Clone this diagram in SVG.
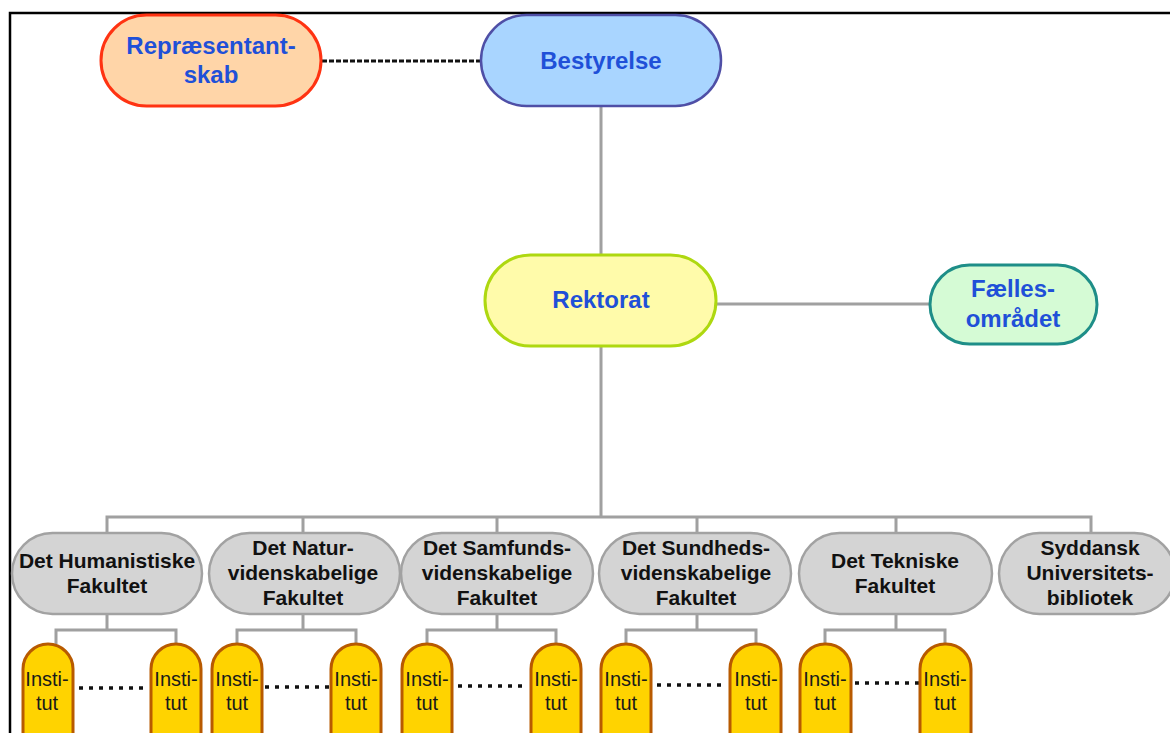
<svg xmlns="http://www.w3.org/2000/svg" width="1170" height="733" viewBox="0 0 1170 733">
<style>
.lbl{font-family:"Liberation Sans",Arial,sans-serif;font-weight:bold;font-size:24px;fill:#1F50D8;text-anchor:middle}
.fac rect{fill:#D4D4D4;stroke:#A2A2A2;stroke-width:2.5}
.fac text{font-family:"Liberation Sans",Arial,sans-serif;font-weight:bold;font-size:21px;fill:#111;text-anchor:middle}
.inst rect{fill:#FFD300;stroke:#B85A00;stroke-width:3}
.inst text{font-family:"Liberation Sans",Arial,sans-serif;font-size:20px;fill:#1a1a1a;text-anchor:middle}
.conn{fill:none;stroke:#A0A0A0;stroke-width:3}
.dots{fill:none;stroke:#111;stroke-width:3.5;stroke-dasharray:4 6}
</style>
<rect width="1170" height="733" fill="#fff"/>
<path d="M10 733 V13 H1170" fill="none" stroke="#000" stroke-width="2.5"/>

<g id="connectors">
  <line x1="322" y1="61" x2="480" y2="61" stroke="#111" stroke-width="3" stroke-dasharray="5 2"/>
  <path class="conn" d="M601 106 V255 M717 304 H929 M601 346 V517 M107 533 V517 H1091 V533 M303 517 V533 M497 517 V533 M697 517 V533 M896 517 V533"/>
  <path class="conn" d="M107 614 V630 M56 644 V630 H176 V644"/>
  <path class="conn" d="M303 614 V630 M237 644 V630 H356 V644"/>
  <path class="conn" d="M497 614 V630 M427 644 V630 H556 V644"/>
  <path class="conn" d="M697 614 V630 M626 644 V630 H756 V644"/>
  <path class="conn" d="M896 614 V630 M825 644 V630 H945 V644"/>
  <line class="dots" x1="79" y1="688" x2="148" y2="688"/>
  <line class="dots" x1="265" y1="687" x2="332" y2="687"/>
  <line class="dots" x1="458" y1="686" x2="527" y2="686"/>
  <line class="dots" x1="657" y1="685" x2="726" y2="685"/>
  <line class="dots" x1="855" y1="683" x2="922" y2="683"/>
</g>

<g id="repraesentantskab">
  <rect x="101" y="15" width="220" height="91" rx="45.5" fill="#FFD5A8" stroke="#FF3312" stroke-width="3"/>
  <text class="lbl" x="211" y="54">Repræsentant-</text>
  <text class="lbl" x="211" y="83">skab</text>
</g>
<g id="bestyrelse">
  <rect x="481" y="15" width="240" height="91" rx="45.5" fill="#A9D5FF" stroke="#4F4FA6" stroke-width="2.5"/>
  <text class="lbl" x="601" y="69">Bestyrelse</text>
</g>
<g id="rektorat">
  <rect x="485" y="255" width="231" height="91" rx="45.5" fill="#FFFBAA" stroke="#AED810" stroke-width="3"/>
  <text class="lbl" x="601" y="308">Rektorat</text>
</g>
<g id="faellesomraadet">
  <rect x="930" y="265" width="167" height="79" rx="39.5" fill="#D5FBD5" stroke="#1E8E88" stroke-width="3"/>
  <text class="lbl" x="1013" y="297">Fælles-</text>
  <text class="lbl" x="1013" y="327">området</text>
</g>

<g id="fak-hum" class="fac">
  <rect x="12" y="533" width="190" height="81" rx="40.5"/>
  <text x="107" y="568">Det Humanistiske</text>
  <text x="107" y="593">Fakultet</text>
</g>
<g id="fak-nat" class="fac">
  <rect x="209" y="533" width="191" height="81" rx="40.5"/>
  <text x="303" y="555">Det Natur-</text>
  <text x="303" y="580">videnskabelige</text>
  <text x="303" y="605">Fakultet</text>
</g>
<g id="fak-sam" class="fac">
  <rect x="401" y="533" width="192" height="81" rx="40.5"/>
  <text x="497" y="555">Det Samfunds-</text>
  <text x="497" y="580">videnskabelige</text>
  <text x="497" y="605">Fakultet</text>
</g>
<g id="fak-sun" class="fac">
  <rect x="599" y="533" width="192" height="81" rx="40.5"/>
  <text x="696" y="555">Det Sundheds-</text>
  <text x="696" y="580">videnskabelige</text>
  <text x="696" y="605">Fakultet</text>
</g>
<g id="fak-tek" class="fac">
  <rect x="799" y="533" width="193" height="81" rx="40.5"/>
  <text x="895" y="568">Det Tekniske</text>
  <text x="895" y="593">Fakultet</text>
</g>
<g id="sdu-bib" class="fac">
  <rect x="999" y="533" width="176" height="81" rx="40.5"/>
  <text x="1090" y="555">Syddansk</text>
  <text x="1090" y="580">Universitets-</text>
  <text x="1090" y="605">bibliotek</text>
</g>

<g id="inst-hum-1" class="inst"><rect x="23" y="644" width="50" height="120" rx="25"/><text x="47" y="686">Insti-</text><text x="47" y="710">tut</text></g>
<g id="inst-hum-2" class="inst"><rect x="151" y="644" width="50" height="120" rx="25"/><text x="176" y="686">Insti-</text><text x="176" y="710">tut</text></g>
<g id="inst-nat-1" class="inst"><rect x="212" y="644" width="50" height="120" rx="25"/><text x="237" y="686">Insti-</text><text x="237" y="710">tut</text></g>
<g id="inst-nat-2" class="inst"><rect x="331" y="644" width="50" height="120" rx="25"/><text x="356" y="686">Insti-</text><text x="356" y="710">tut</text></g>
<g id="inst-sam-1" class="inst"><rect x="402" y="644" width="50" height="120" rx="25"/><text x="427" y="686">Insti-</text><text x="427" y="710">tut</text></g>
<g id="inst-sam-2" class="inst"><rect x="531" y="644" width="50" height="120" rx="25"/><text x="556" y="686">Insti-</text><text x="556" y="710">tut</text></g>
<g id="inst-sun-1" class="inst"><rect x="601" y="644" width="50" height="120" rx="25"/><text x="626" y="686">Insti-</text><text x="626" y="710">tut</text></g>
<g id="inst-sun-2" class="inst"><rect x="730" y="644" width="51" height="120" rx="25"/><text x="756" y="686">Insti-</text><text x="756" y="710">tut</text></g>
<g id="inst-tek-1" class="inst"><rect x="800" y="644" width="51" height="120" rx="25"/><text x="825" y="686">Insti-</text><text x="825" y="710">tut</text></g>
<g id="inst-tek-2" class="inst"><rect x="920" y="644" width="51" height="120" rx="25"/><text x="945" y="686">Insti-</text><text x="945" y="710">tut</text></g>
</svg>
